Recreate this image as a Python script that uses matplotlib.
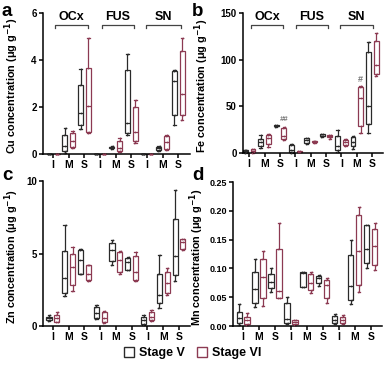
import matplotlib
matplotlib.use("Agg")
import matplotlib.pyplot as plt
from matplotlib.patches import Patch
from matplotlib.transforms import blended_transform_factory

plt.rcParams['font.family'] = ['Liberation Sans', 'DejaVu Sans']
plt.rcParams['font.weight'] = 'bold'

regions = ["OCx", "FUS", "SN"]
stages = ["I", "M", "S"]

# box stats per category: [min, q1, median, q3, max]
cu_v = [[0, 0, 0, 0, 0], [0.05, 0.12, 0.35, 0.82, 1.1], [1.07, 1.25, 1.75, 2.95, 3.6],
        [0, 0, 0, 0, 0], [0.22, 0.25, 0.28, 0.30, 0.33], [0.82, 0.9, 1.3, 3.56, 4.27],
        [0, 0, 0, 0, 0], [0.12, 0.15, 0.25, 0.3, 0.33], [1.25, 1.67, 3.1, 3.52, 3.59]]
cu_vi = [[0, 0, 0, 0, 0], [0.25, 0.3, 0.55, 0.9, 1.0], [0.9, 0.93, 2.05, 3.68, 4.93],
         [0, 0, 0, 0, 0], [0.1, 0.12, 0.27, 0.55, 0.68], [0.48, 0.55, 0.92, 2.0, 2.3],
         [0, 0, 0, 0, 0], [0.16, 0.22, 0.5, 0.75, 0.82], [1.45, 1.67, 2.55, 4.4, 4.93]]

fe_v = [[0.5, 1, 2, 3, 3.5], [5.4, 7, 11.4, 15, 19.6], [28, 28.5, 29, 29.5, 30],
        [0.3, 1, 3.6, 8.2, 9.6], [10, 10.7, 13.6, 16, 16.5], [17, 17.9, 18.6, 20.4, 20.8],
        [1, 3.6, 7.1, 17.9, 25], [4.6, 7.1, 11.4, 17, 17.9], [21.4, 31, 50, 107.9, 118.6]]
fe_vi = [[0.5, 1, 2, 4, 4.5], [6.4, 10, 16, 19.6, 20], [14.3, 15, 18.6, 26.8, 27.5],
         [0.8, 1, 1.5, 2, 2.2], [11, 11.5, 12, 13, 13.2], [15, 16.8, 17.9, 19.3, 19.5],
         [7.1, 8.2, 11.4, 14.3, 15], [21.4, 28.6, 58.9, 70.7, 71.4], [82, 85, 94.6, 119.6, 128.6]]

zn_v = [[0.37, 0.41, 0.53, 0.64, 0.76], [2.09, 2.25, 3.28, 5.16, 7.0], [3.58, 3.62, 4.54, 5.23, 5.28],
        [0.48, 0.53, 0.87, 1.33, 1.44], [4.2, 4.45, 5.25, 5.75, 5.9], [3.83, 3.85, 4.43, 4.7, 4.77],
        [0.07, 0.11, 0.41, 0.64, 0.76], [1.22, 1.56, 2.13, 3.56, 4.89], [3.1, 3.51, 4.82, 7.41, 9.4]]
zn_vi = [[0.25, 0.3, 0.53, 0.76, 0.99], [2.43, 2.82, 4.08, 5.0, 5.46], [3.1, 3.17, 3.62, 4.2, 4.24],
         [0.18, 0.3, 0.53, 0.94, 1.03], [3.62, 3.74, 4.54, 5.07, 5.16], [3.1, 3.17, 3.74, 4.82, 5.11],
         [0.37, 0.41, 0.64, 0.99, 1.1], [2.13, 2.25, 2.94, 3.74, 3.97], [5.23, 5.28, 5.76, 5.99, 6.03]]

mn_v = [[0.002, 0.0046, 0.0144, 0.025, 0.0375], [0.0335, 0.0404, 0.0635, 0.093, 0.116],
        [0.0584, 0.0653, 0.0768, 0.0895, 0.100], [0.003, 0.0046, 0.0121, 0.0393, 0.0497],
        [0.067, 0.068, 0.092, 0.093, 0.094], [0.070, 0.074, 0.0827, 0.0867, 0.088],
        [0.003, 0.0046, 0.0104, 0.018, 0.020], [0.0375, 0.045, 0.069, 0.124, 0.149],
        [0.100, 0.110, 0.1345, 0.175, 0.176]]
mn_vi = [[0.001, 0.003, 0.0104, 0.016, 0.023], [0.0347, 0.049, 0.0855, 0.116, 0.130],
         [0.048, 0.049, 0.0607, 0.1345, 0.178], [0.0023, 0.003, 0.0075, 0.0098, 0.0104],
         [0.057, 0.062, 0.075, 0.091, 0.094], [0.040, 0.048, 0.071, 0.080, 0.083],
         [0.0035, 0.0046, 0.0104, 0.016, 0.019], [0.0595, 0.071, 0.130, 0.1935, 0.207],
         [0.098, 0.106, 0.139, 0.169, 0.178]]

black = '#2a2a2a'
maroon = '#8c3a52'

fig = plt.figure(figsize=(3.85, 3.7), dpi=100)

# letter, metal, stage V, stage VI, axes box (px), xlim, ylim, yticks, fmt, tick size, ylabel x (px), letter pos (px)
panels = [
    ("a", "Cu", cu_v, cu_vi, [43, 13, 147, 141], (0.35, 9.75), (0, 6), [0, 2, 4, 6], "{:.0f}", 7, 21, (2, 11)),
    ("b", "Fe", fe_v, fe_vi, [243, 13, 140, 140], (0.6, 9.7), (0, 150), [0, 50, 100, 150], "{:.0f}", 7, 211, (192, 11)),
    ("c", "Zn", zn_v, zn_vi, [43, 181, 147, 145], (0.37, 9.7), (0, 10), [0, 5, 10], "{:.0f}", 7, 21, (2, 175)),
    ("d", "Mn", mn_v, mn_vi, [233, 182, 149, 144], (0.37, 9.7), (0, 0.25),
     [0, 0.05, 0.10, 0.15, 0.20, 0.25], "{:.2f}", 6.5, 206, (192, 175)),
]

W, H = 385.0, 370.0
axes = {}
for letter, metal, sv, svi, box, xl, yl, yt, fmt, tsize, lx, lpos in panels:
    x0, y0, w, h = box
    ax = fig.add_axes([x0 / W, 1 - (y0 + h) / H, w / W, h / H])
    axes[letter] = ax
    pos = list(range(1, 10))
    for data, off, col in [(sv, -0.25, black), (svi, 0.25, maroon)]:
        stats = [dict(whislo=d[0], q1=d[1], med=d[2], q3=d[3], whishi=d[4]) for d in data]
        ax.bxp(stats, positions=[p + off for p in pos], widths=0.32, showfliers=False,
               patch_artist=True, capwidths=0.16,
               boxprops=dict(facecolor='white', edgecolor=col, linewidth=0.9),
               medianprops=dict(color=col, linewidth=0.9),
               whiskerprops=dict(color=col, linewidth=0.9),
               capprops=dict(color=col, linewidth=0.9), manage_ticks=False)
        for p, d in zip(pos, data):
            ax.scatter([p + off + dx for dx in (-0.05, 0.05, 0, -0.05, 0.05)], d,
                       s=1.5, color=col, zorder=4, clip_on=False, linewidths=0)
    for art in ax.patches + ax.lines:
        art.set_clip_on(False)
    ax.set_xlim(*xl)
    ax.set_ylim(*yl)
    ax.set_yticks(yt)
    ax.set_yticklabels([fmt.format(v) for v in yt], fontsize=tsize, fontweight='bold')
    ax.set_xticks(pos)
    ax.set_xticklabels(stages * 3, fontsize=7.5, fontweight='bold')
    for s in ['top', 'right']:
        ax.spines[s].set_visible(False)
    for s in ['left', 'bottom']:
        ax.spines[s].set_linewidth(1.1)
    ax.tick_params(axis='both', length=3, width=1.1, pad=1.5)
    ax.set_ylabel(metal + " concentration (\u03bcg g$^{\\mathbf{-1}}$)", fontsize=7.8,
                  fontweight='bold')
    ax.yaxis.set_label_coords((lx - x0) / w, 0.48)
    fig.text(lpos[0] / W, 1 - lpos[1] / H, letter, fontsize=13.5, fontweight='bold',
             va='center', ha='left')

# brackets over regions
for letter, spans in [("a", [(1.1, 3.2), (4.1, 6.15), (6.95, 9.15)]),
                      ("b", [(1.15, 3.2), (4.05, 6.1), (6.9, 9.05)])]:
    ax = axes[letter]
    tr = blended_transform_factory(ax.transData, ax.transAxes)
    for name, (xa, xb) in zip(regions, spans):
        ax.plot([xa, xa, xb, xb], [0.895, 0.915, 0.915, 0.895], color='#444444',
                lw=0.9, transform=tr, clip_on=False)
        ax.text((xa + xb) / 2, 0.93, name, transform=tr, ha='center', va='bottom',
                fontsize=9, fontweight='bold')

axes["b"].text(3.25, fe_vi[2][4] + 5, "##", ha='center', va='bottom', fontsize=5.5,
               color='#777777', style='italic')
axes["b"].text(8.25, fe_vi[7][4] + 2, "#", ha='center', va='bottom', fontsize=6.5,
               color='#777777')

handles = [Patch(facecolor='white', edgecolor=black, label='Stage V'),
           Patch(facecolor='white', edgecolor=maroon, label='Stage VI')]
fig.legend(handles=handles, loc='center', bbox_to_anchor=(0.5, 1 - 353 / H), ncol=2,
           frameon=False, prop=dict(size=9, weight='bold'), handlelength=0.8,
           handleheight=0.8, handletextpad=0.4, columnspacing=1.0)

fig.savefig("out.png", dpi=100)
